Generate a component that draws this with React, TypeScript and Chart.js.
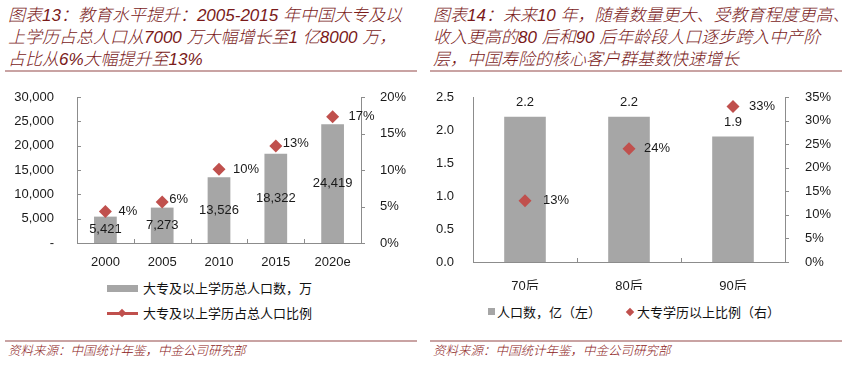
import React, { useEffect, useRef } from "react";
import { Chart, registerables } from "chart.js";
Chart.register(...registerables);

// ---------- data: chart 13 ----------
const years = ["2000", "2005", "2010", "2015", "2020e"];
const gradPop = [5421, 7273, 13526, 18322, 24419];
const gradPopLabels = ["5,421", "7,273", "13,526", "18,322", "24,419"];
const gradShare = [4.3, 5.6, 10.1, 13.3, 17.3];
const gradShareLabels = ["4%", "6%", "10%", "13%", "17%"];
const popTicks13 = ["-", "5,000", "10,000", "15,000", "20,000", "25,000", "30,000"];
const pctTicks13 = ["0%", "5%", "10%", "15%", "20%"];

// ---------- data: chart 14 ----------
const cohorts = ["70后", "80后", "90后"];
const cohortPop = [2.2, 2.2, 1.9];
const cohortPopLabels = ["2.2", "2.2", "1.9"];
const cohortShare = [13, 24, 33];
const cohortShareLabels = ["13%", "24%", "33%"];
const popTicks14 = ["0.0", "0.5", "1.0", "1.5", "2.0", "2.5"];
const pctTicks14 = ["0%", "5%", "10%", "15%", "20%", "25%", "30%", "35%"];

const BAR = "#a6a6a6";
const RED = "#c0504d";
const AXIS = "#8c8c8c";
const TXT = "#1a1a1a";
const TITLE = "#7a1a1a";
const NUMFONT = "'Liberation Sans', Arial, 'Noto Sans CJK SC', sans-serif";

const axisTicksPlugin = {
  id: "axisTicks",
  afterDraw(chart: any, _a: any, opts: any) {
    const ctx = chart.ctx;
    const { left, right, bottom } = chart.chartArea;
    const len = opts.len || 4;
    ctx.save();
    ctx.strokeStyle = opts.color;
    ctx.lineWidth = 1;
    const line = (x1: number, y1: number, x2: number, y2: number) => {
      ctx.beginPath();
      ctx.moveTo(x1, y1);
      ctx.lineTo(x2, y2);
      ctx.stroke();
    };
    if (opts.leftInward) {
      const s = chart.scales.y;
      s.ticks.forEach((_t: any, i: number) => {
        const py = Math.round(s.getPixelForTick(i)) + 0.5;
        line(left, py, left + len, py);
      });
    }
    if (opts.rightOutward) {
      const s = chart.scales.y2;
      s.ticks.forEach((_t: any, i: number) => {
        const py = Math.round(s.getPixelForTick(i)) + 0.5;
        line(right, py, right + len, py);
      });
    }
    if (opts.xInward) {
      const s = chart.scales.x;
      const n = chart.data.labels.length;
      for (let i = 1; i < n; i++) {
        const px = Math.round((s.getPixelForValue(i - 1) + s.getPixelForValue(i)) / 2) + 0.5;
        line(px, bottom, px, bottom - len);
      }
    }
    ctx.restore();
  },
};

const valueLabelsPlugin = {
  id: "valueLabels",
  afterDatasetsDraw(chart: any, _a: any, opts: any) {
    const ctx = chart.ctx;
    ctx.save();
    ctx.font = `13px ${NUMFONT}`;
    ctx.fillStyle = TXT;
    const barMeta = chart.getDatasetMeta(0);
    barMeta.data.forEach((el: any, i: number) => {
      ctx.textAlign = "center";
      ctx.textBaseline = "middle";
      const y = opts.barMode === "center" ? (el.y + el.base) / 2 : el.y - opts.barGap;
      ctx.fillText(opts.barLabels[i], el.x, y);
    });
    const ptMeta = chart.getDatasetMeta(1);
    ptMeta.data.forEach((el: any, i: number) => {
      ctx.textAlign = "left";
      ctx.textBaseline = "middle";
      ctx.fillText(opts.pointLabels[i], el.x + opts.pointDx[i], el.y + (opts.pointDy ? opts.pointDy[i] : 0));
    });
    ctx.restore();
  },
};

function makeConfig(p: any) {
  return {
    type: "bar",
    data: {
      labels: p.labels,
      datasets: [
        {
          type: "bar",
          data: p.bars,
          backgroundColor: BAR,
          borderWidth: 0,
          yAxisID: "y",
          order: 2,
          categoryPercentage: 1,
          barPercentage: 0.4,
        },
        {
          type: "line",
          data: p.pts,
          yAxisID: "y2",
          order: 1,
          showLine: false,
          pointStyle: "rectRot",
          pointRadius: 6.5,
          pointBackgroundColor: RED,
          pointBorderColor: RED,
          pointBorderWidth: 0,
          borderColor: RED,
          backgroundColor: RED,
        },
      ],
    },
    options: {
      responsive: false,
      animation: false,
      devicePixelRatio: 1,
      layout: { padding: { top: p.top, left: 0, right: 0, bottom: 0 } },
      plugins: {
        legend: { display: false },
        tooltip: { enabled: false },
        axisTicks: p.ticksOpts,
        valueLabels: p.labelsOpts,
      },
      scales: {
        x: {
          grid: { display: false },
          border: { display: true, color: AXIS, width: 1 },
          ticks: { color: TXT, font: { family: NUMFONT, size: 13 }, padding: p.xPad, maxRotation: 0 },
          afterFit: (s: any) => {
            s.height = p.xH;
          },
        },
        y: {
          position: "left",
          min: 0,
          max: p.yMax,
          grid: { display: false },
          border: { display: true, color: AXIS, width: 1 },
          ticks: {
            stepSize: p.yStep,
            color: TXT,
            font: { family: NUMFONT, size: 13 },
            padding: p.leftPad,
            callback: (_v: any, i: number) => p.yTicks[i],
          },
          afterFit: (s: any) => {
            s.width = p.leftW;
            s.paddingTop = 0;
            s.paddingBottom = 0;
          },
        },
        y2: {
          position: "right",
          min: 0,
          max: p.y2Max,
          grid: { display: false },
          border: { display: true, color: AXIS, width: 1 },
          ticks: {
            stepSize: p.y2Step,
            color: TXT,
            font: { family: NUMFONT, size: 13 },
            padding: p.rightPad,
            callback: (_v: any, i: number) => p.y2Ticks[i],
          },
          afterFit: (s: any) => {
            s.width = p.rightW;
            s.paddingTop = 0;
            s.paddingBottom = 0;
          },
        },
      },
    },
    plugins: [axisTicksPlugin, valueLabelsPlugin],
  };
}

function ChartCanvas({ config, width, height, style }: any) {
  const ref = useRef<HTMLCanvasElement | null>(null);
  useEffect(() => {
    if (!ref.current) return;
    const c = new Chart(ref.current, config as any);
    return () => c.destroy();
  }, []);
  return <canvas ref={ref} width={width} height={height} style={{ position: "absolute", width, height, ...style }} />;
}

const titleStyle: React.CSSProperties = {
  position: "absolute",
  fontFamily: "'Liberation Sans', Arial, 'Noto Sans CJK SC', sans-serif",
  fontStyle: "italic",
  fontWeight: 300,
  fontSize: 17,
  color: TITLE,
  whiteSpace: "nowrap",
  lineHeight: "22px",
};

const footStyle: React.CSSProperties = {
  position: "absolute",
  fontFamily: "'Noto Sans CJK SC', sans-serif",
  fontStyle: "italic",
  fontWeight: 300,
  fontSize: 12.5,
  color: "#8b2020",
  whiteSpace: "nowrap",
  lineHeight: "16px",
};

const legendText: React.CSSProperties = {
  position: "absolute",
  fontFamily: "'Noto Sans CJK SC', sans-serif",
  fontSize: 13,
  color: "#111",
  whiteSpace: "nowrap",
  lineHeight: "16px",
};

function Rule({ left, width, top }: any) {
  return <div style={{ position: "absolute", left, top, width, height: 2, background: "#c9a3a3" }} />;
}

export default function App() {
  const cfg13 = makeConfig({
    labels: years,
    bars: gradPop,
    pts: gradShare,
    yMax: 30000,
    yStep: 5000,
    yTicks: popTicks13,
    y2Max: 20,
    y2Step: 5,
    y2Ticks: pctTicks13,
    leftW: 77,
    rightW: 64,
    xH: 27,
    xPad: 4,
    top: 12,
    leftPad: 15,
    rightPad: 11,
    ticksOpts: { color: AXIS, len: 4, leftInward: true, rightOutward: true, xInward: true },
    labelsOpts: {
      barMode: "center",
      barLabels: gradPopLabels,
      pointLabels: gradShareLabels,
      pointDx: [13, 7, 14, 7, 16],
      pointDy: [0, -3, 0, -2, 0],
    },
  });
  const cfg14 = makeConfig({
    labels: cohorts,
    bars: cohortPop,
    pts: cohortShare,
    yMax: 2.5,
    yStep: 0.5,
    yTicks: popTicks14,
    y2Max: 35,
    y2Step: 5,
    y2Ticks: pctTicks14,
    leftW: 48,
    rightW: 64,
    xH: 28,
    xPad: 9,
    top: 12,
    leftPad: 11,
    rightPad: 12,
    ticksOpts: { color: AXIS, len: 4, leftInward: false, rightOutward: true, xInward: true },
    labelsOpts: {
      barMode: "above",
      barGap: 14,
      barLabels: cohortPopLabels,
      pointLabels: cohortShareLabels,
      pointDx: [18, 15, 16],
    },
  });

  return (
    <div style={{ position: "fixed", left: 0, top: 0, width: 849, height: 375, background: "#fff", overflow: "hidden" }}>
      {/* Left panel */}
      <div style={{ ...titleStyle, left: 8, top: 5 }}>图表13：教育水平提升：2005-2015 年中国大专及以</div>
      <div style={{ ...titleStyle, left: 8, top: 27 }}>上学历占总人口从7000 万大幅增长至1 亿8000 万，</div>
      <div style={{ ...titleStyle, left: 8, top: 49 }}>占比从6%大幅提升至13%</div>
      <Rule left={5} width={412} top={70} />
      <ChartCanvas config={cfg13} width={425} height={185} style={{ left: 0, top: 85 }} />
      <div style={{ position: "absolute", left: 107, top: 285, width: 31, height: 7, background: BAR }} />
      <div style={{ ...legendText, left: 143, top: 280 }}>大专及以上学历总人口数，万</div>
      <div style={{ position: "absolute", left: 107, top: 312, width: 31, height: 3, background: RED }} />
      <div
        style={{
          position: "absolute",
          left: 119,
          top: 310,
          width: 6,
          height: 6,
          background: RED,
          transform: "rotate(45deg)",
        }}
      />
      <div style={{ ...legendText, left: 143, top: 305 }}>大专及以上学历占总人口比例</div>
      <Rule left={5} width={412} top={340} />
      <div style={{ ...footStyle, left: 8, top: 342 }}>资料来源：中国统计年鉴，中金公司研究部</div>

      {/* Right panel */}
      <div style={{ ...titleStyle, left: 433, top: 5 }}>图表14：未来10 年，随着数量更大、受教育程度更高、</div>
      <div style={{ ...titleStyle, left: 433, top: 27 }}>收入更高的80 后和90 后年龄段人口逐步跨入中产阶</div>
      <div style={{ ...titleStyle, left: 433, top: 49 }}>层，中国寿险的核心客户群基数快速增长</div>
      <Rule left={430} width={412} top={70} />
      <ChartCanvas config={cfg14} width={424} height={205} style={{ left: 425, top: 85 }} />
      <div style={{ position: "absolute", left: 488, top: 308, width: 7, height: 7, background: BAR }} />
      <div style={{ ...legendText, left: 497, top: 304 }}>人口数，亿（左）</div>
      <div
        style={{
          position: "absolute",
          left: 627,
          top: 308.5,
          width: 6,
          height: 6,
          background: RED,
          transform: "rotate(45deg)",
        }}
      />
      <div style={{ ...legendText, left: 637, top: 304 }}>大专学历以上比例（右）</div>
      <Rule left={430} width={412} top={340} />
      <div style={{ ...footStyle, left: 433, top: 342 }}>资料来源：中国统计年鉴，中金公司研究部</div>
    </div>
  );
}
